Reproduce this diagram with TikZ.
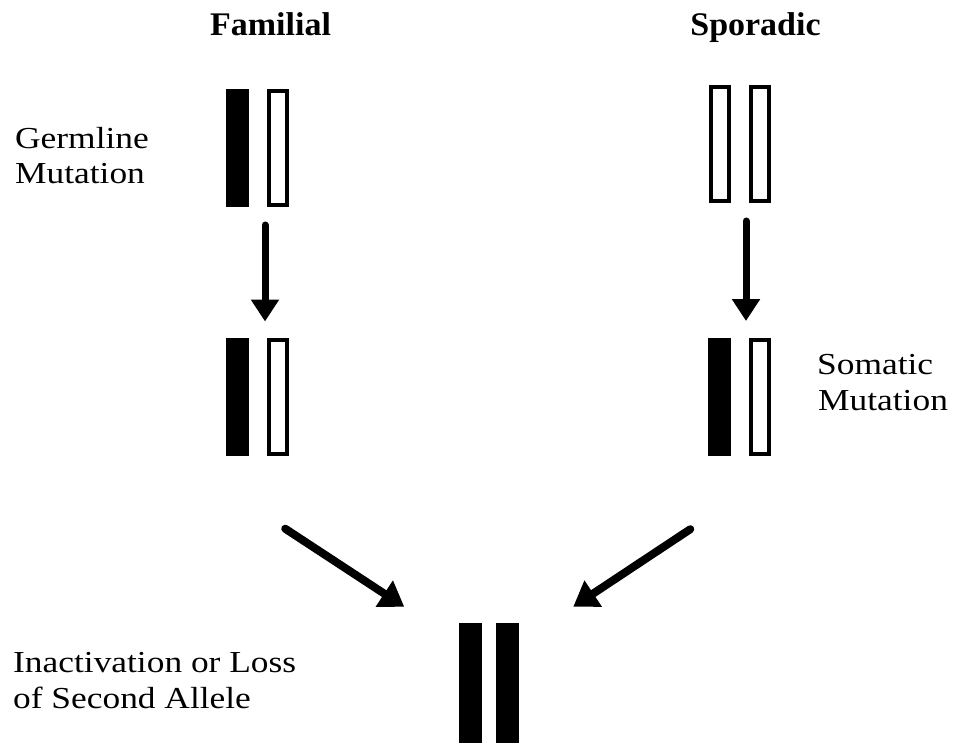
\documentclass[tikz,border=0pt]{standalone}
\usepackage{fontspec}
\setmainfont{Liberation Serif}[FakeStretch=1.16]
\newfontfamily\headfont{Liberation Serif}[FakeStretch=1.03]
\usetikzlibrary{arrows.meta}
\begin{document}
\begin{tikzpicture}[x=1pt,y=-1pt,
  blackbar/.style={fill=black, inner sep=0pt, minimum width=23pt, minimum height=118pt},
  whitebar/.style={draw=black, line width=4pt, fill=white, inner sep=0pt, minimum width=18pt, minimum height=114pt},
  lbl/.style={font=\fontsize{30.5}{36}\selectfont, inner sep=0pt, anchor=base west},
  head/.style={font=\headfont\bfseries\fontsize{33}{38}\selectfont, inner sep=0pt, anchor=base},
  arr/.style={line width=7pt, -{Triangle[width=27pt,length=22pt]}, line cap=round}]
\useasboundingbox (0,0) rectangle (957,743);

% headings
\node[head] (fam) at (270.5,36) {Familial};
\node[head] (spo) at (755.5,36) {Sporadic};

% familial column
\node[blackbar] (fb1) at (237.5,148) {};
\node[whitebar] (fw1) at (278,148) {};
\node[blackbar] (fb2) at (237.5,396.5) {};
\node[whitebar] (fw2) at (278,396.5) {};

% sporadic column
\node[whitebar] (sw1a) at (719.5,144) {};
\node[whitebar] (sw1b) at (760,144) {};
\node[blackbar] (sb2) at (719,397) {};
\node[whitebar] (sw2) at (760,397) {};

% bottom
\node[blackbar, minimum height=122pt] (bb1) at (470,684) {};
\node[blackbar, minimum height=122pt] (bb2) at (507.5,684) {};

% labels
\node[lbl] (g1) at (15,149) {Germline};
\node[lbl] (g2) at (15,184) {Mutation};
\node[lbl] (s1) at (817,374) {Somatic};
\node[lbl] (s2) at (818,410) {Mutation};
\node[lbl] (i1) at (13,672) {Inactivation or Loss};
\node[lbl] (i2) at (13,708) {of Second Allele};

% arrows
\draw[arr] ([shift={(-2,18)}]fw1.south west) -- ([shift={(-2,-16)}]fw2.north west);
\draw[arr] ([shift={(-3,18)}]sw1b.south west) -- ([shift={(-3,-17)}]sw2.north west);
\draw[arr, line width=8pt, -{Triangle[width=30pt,length=24pt]}] ([shift={(36,73)}]fb2.south east) -- ([shift={(-54,-16)}]bb1.north west);
\draw[arr, line width=8pt, -{Triangle[width=30pt,length=24pt]}] ([shift={(-17,73)}]sb2.south west) -- ([shift={(54,-16)}]bb2.north east);
\end{tikzpicture}
\end{document}
